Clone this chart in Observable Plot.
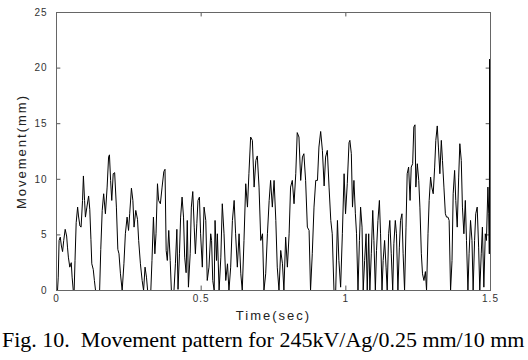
<!DOCTYPE html>
<html><head><meta charset="utf-8">
<script src="https://cdn.jsdelivr.net/npm/d3@7"></script>
<script src="https://cdn.jsdelivr.net/npm/@observablehq/plot@0.6"></script>
<style>
body{margin:0;background:#fff;}
#chart svg g[aria-label="x-axis tick label"], #chart svg g[aria-label="y-axis tick label"]{letter-spacing:1px;}
#chart svg g[aria-label="x-axis label"], #chart svg g[aria-label="y-axis label"]{font-size:13px;letter-spacing:2px;fill:#222;}
#caption{font-family:"Liberation Serif","Times New Roman",serif;font-size:22px;line-height:24px;margin:2px 0 0 2px;white-space:pre;color:#000;}
</style></head><body>
<div id="chart"></div>
<div id="caption">Fig. 10.  Movement pattern for 245kV/Ag/0.25 mm/10 mm</div>
<script>
const time = [0,0.0035,0.006,0.009,0.013,0.017,0.021,0.025,0.030,0.035,0.038,0.041,0.046,0.051,0.054,0.058,0.061,0.064,0.068,0.073,0.076,0.081,0.085,0.090,0.093,0.097,0.100,0.105,0.111,0.115,0.119,0.122,0.127,0.131,0.135,0.149,0.153,0.158,0.163,0.169,0.175,0.180,0.183,0.187,0.191,0.196,0.201,0.207,0.212,0.216,0.221,0.227,0.233,0.238,0.244,0.249,0.253,0.259,0.264,0.268,0.274,0.280,0.284,0.290,0.296,0.301,0.306,0.311,0.315,0.326,0.330,0.335,0.340,0.344,0.349,0.353,0.359,0.365,0.371,0.375,0.379,0.383,0.388,0.393,0.397,0.406,0.411,0.416,0.420,0.425,0.429,0.434,0.439,0.443,0.448,0.452,0.456,0.462,0.466,0.471,0.476,0.480,0.485,0.489,0.494,
0.498,0.504,0.510,0.516,0.521,0.527,0.533,0.536,0.540,0.545,0.548,0.553,0.556,0.562,0.568,0.573,0.579,0.585,0.591,0.596,0.602,0.608,0.614,0.619,0.625,0.631,0.637,0.642,0.648,0.654,0.660,0.665,0.671,0.677,0.683,0.689,0.694,0.700,0.706,0.712,0.717,0.723,0.729,0.735,0.740,0.746,0.752,0.758,0.763,0.769,0.775,0.781,0.786,0.792,0.798,0.804,0.809,0.815,0.821,0.827,0.832,0.838,0.844,0.850,0.855,0.861,0.867,0.873,0.878,0.884,0.890,0.896,0.902,0.907,0.913,0.919,0.925,0.930,0.936,0.942,0.948,0.953,0.959,0.965,0.971,0.976,0.982,0.988,0.994,0.999,1.005,1.011,1.014,
1.019,1.023,1.028,1.033,1.037,1.042,1.047,1.051,1.056,1.060,1.065,1.070,1.074,1.079,1.083,1.088,1.093,1.097,1.102,1.106,1.111,1.116,1.120,1.125,1.129,1.134,1.139,1.143,1.148,1.152,1.157,1.162,1.166,1.171,1.175,1.180,1.185,1.189,1.194,1.198,1.203,1.208,1.212,1.217,1.222,1.226,1.231,1.235,1.239,1.242,1.247,1.252,1.256,1.261,1.265,1.270,1.275,1.279,1.284,1.288,1.293,1.297,1.302,1.307,1.311,1.316,1.320,1.325,1.330,1.334,1.339,1.344,1.348,1.353,1.357,1.362,1.367,1.371,1.376,1.380,1.385,1.390,1.394,1.399,1.403,1.408,1.413,1.417,1.422,1.426,1.431,1.436,1.440,1.445,1.449,1.454,1.459,1.463,1.468,1.472,1.477,1.482,1.486,1.491,1.494,1.496,1.497,1.498,1.499,1.4995];
const movement = [0,0,1.2,4.5,4.8,4.0,3.5,4.5,5.5,4.9,3.9,3.0,2.1,2.5,1.2,0,0,2.7,6.1,7.5,6.7,5.8,5.7,8.1,10.3,8.1,6.6,7.5,8.5,7.3,4.6,2.4,1.9,0.9,0,0,3.7,7.2,8.7,6.9,9.3,12.0,12.2,9.9,8.1,10.5,10.6,7.5,3.7,3.3,1.5,0,2.4,5.1,6.6,5.4,6.9,9.2,8.1,5.7,7.2,6.4,4.5,2.4,0.9,0,2.1,1.2,0,0,2.7,6.6,3.3,5.1,9.6,8.1,7.8,9.3,10.7,10.9,3.6,2.7,5.4,2.7,0,0,2.4,5.5,0.1,3.3,6.6,8.4,6.6,3.0,1.6,6.3,0.3,3.3,7.5,8.9,5.7,3.3,6.0,8.1,8.4,
5.1,2.1,7.5,6.3,0.9,2.1,5.1,4.5,0.9,0,6.3,2.7,5.1,0,3.0,7.8,5.1,0.9,2.4,0,2.1,6.3,8.1,5.1,2.1,5.1,1.5,0,4.5,9.6,7.5,10.5,13.8,13.5,9.3,11.7,12.1,9.3,4.5,5.1,0,1.5,5.1,8.1,9.9,7.5,9.9,6.3,2.1,0,3.6,2.4,0,4.8,2.1,5.1,9.3,9.9,7.8,10.5,14.2,13.8,9.9,12.0,12.3,9.9,5.7,5.4,0,3.3,7.5,9.9,9.9,12.9,14.3,12.6,9.4,12.0,12.6,9.3,6.3,5.1,0,0,6.3,2.7,0.3,5.1,10.5,6.9,9.6,13.3,13.5,
12.3,7.5,9.9,6.9,5.1,0,4.5,7.5,5.7,0,2.7,5.1,0,5.1,0,3.3,7.2,4.5,0,3.6,6.3,8.1,5.1,0,2.7,4.5,2.1,0,5.1,6.3,3.3,0,4.2,6.3,5.1,0,3.9,6.3,6.9,3.3,0,5.7,10.5,11.1,8.1,11.1,11.4,14.7,14.9,9.3,11.4,9.9,7.5,3.3,1.5,0.9,1.7,0,5.1,8.1,10.2,9.3,8.7,11.1,13.5,14.8,12.9,10.5,13.5,11.7,9.3,6.9,6.6,6.6,6.3,0,2.7,8.7,10.8,8.1,5.7,10.2,13.2,11.7,7.5,5.1,8.1,4.5,0,3.3,6.3,4.5,0,4.5,6.9,7.5,3.9,0,3.3,5.7,0.3,5.1,4.5,9.3,6.9,3.3,20.8,3.3,20.8,11.0];
const xTicks = [0, 0.5, 1, 1.5];
const yTicks = [0, 5, 10, 15, 20, 25];
const data = time.map((t, i) => ({t, v: movement[i]}));

const chart = Plot.plot({
  width: 528, height: 326,
  marginLeft: 56, marginRight: 38, marginTop: 12, marginBottom: 36,
  style: {fontFamily: "'Liberation Sans', Arial, sans-serif", fontSize: "10px", color: "#333", background: "#fff"},
  x: {domain: [0, 1.5]},
  y: {domain: [0, 25]},
  marks: [
    Plot.axisX(xTicks, {tickSize: 0, tickPadding: 4, tickFormat: d => String(d), label: "Time(sec)", labelAnchor: "center", labelArrow: "none", labelOffset: 29}),
    Plot.axisY(yTicks, {tickSize: 0, tickPadding: 9, tickFormat: d => String(d), label: "Movement(mm)", labelAnchor: "center", labelArrow: "none", labelOffset: 40}),
    Plot.ruleX(xTicks, {y1: 0, y2: 0.4, stroke: "#555"}),
    Plot.ruleX(xTicks, {y1: 24.6, y2: 25, stroke: "#555"}),
    Plot.ruleY(yTicks, {x1: 0, x2: 0.015, stroke: "#555"}),
    Plot.ruleY(yTicks, {x1: 1.485, x2: 1.5, stroke: "#555"}),
    Plot.line(data, {x: "t", y: "v", stroke: "#000", strokeWidth: 1}),
    Plot.frame({stroke: "#666"})
  ]
});
document.getElementById("chart").append(chart);
</script>
</body></html>
